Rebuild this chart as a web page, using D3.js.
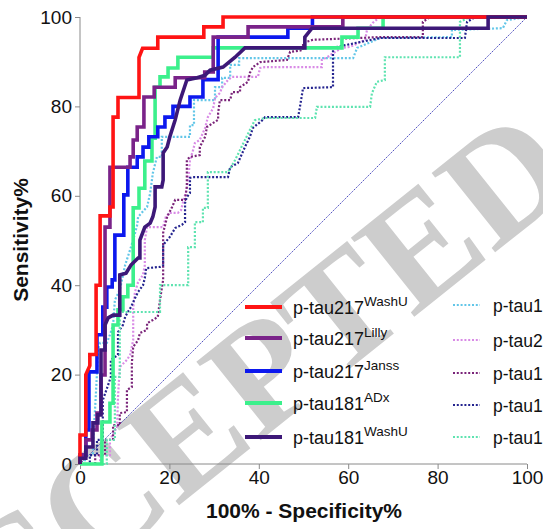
<!DOCTYPE html>
<html><head><meta charset="utf-8">
<script src="https://cdn.jsdelivr.net/npm/d3@7"></script>
<style>html,body{margin:0;padding:0;background:#fff;overflow:hidden}</style>
</head><body><svg id="c" width="543" height="529"></svg>
<script>
// ROC curves: [100% - specificity, sensitivity]
const pTau217WashU = [[0,0],[0,6.5],[1.3,6.5],[1.3,20],[2.2,22],[2.2,24.5],[3.6,24.5],[3.6,40],[4.5,40],[4.5,55.5],[6.7,55.5],[6.7,57.5],[7.4,57.5],[7.4,77.6],[8.5,77.6],[8.5,82],[13.2,82],[13.2,91],[14,93],[17.4,93],[17.4,95.5],[27.7,95.5],[27.7,97.8],[32,97.8],[32,100],[100,100]];
const pTau217Lilly = [[0,0],[0,2],[1.3,2],[1.3,5.4],[2.7,5.4],[2.7,7.6],[3.8,7.6],[3.8,11.4],[4.7,11.4],[4.7,19.9],[5.6,19.9],[5.6,53],[6.7,53],[6.7,66.4],[11.2,66.4],[11.2,68.7],[11.9,68.7],[11.9,72.5],[12.8,72.5],[12.8,75.4],[14.3,75.4],[14.3,82.1],[16.6,82.1],[16.6,84.3],[21.3,84.3],[21.3,86.4],[27.9,86.4],[27.9,87.7],[29.8,87.7],[29.8,95.5],[37.6,95.5],[37.6,97.8],[58.8,97.8],[58.8,100],[100,100]];
const pTau217Janss = [[0,0],[0,2],[1.3,2],[1.3,7.6],[2,7.6],[2,20.6],[3.8,20.6],[3.8,28.9],[5.1,28.9],[5.1,35.1],[6,35.1],[6,39.6],[7.2,39.6],[7.2,41.2],[7.8,41.2],[7.8,51.2],[9.8,51.2],[9.8,60.2],[10.7,60.2],[10.7,66.4],[12.8,66.4],[12.8,68.7],[14.1,68.7],[14.1,70.9],[15.4,70.9],[15.4,73.2],[17.4,73.2],[17.4,75.4],[19,75.4],[19,77.6],[20.8,77.6],[20.8,80],[24.6,80],[24.6,82.1],[27.5,82.1],[27.5,86],[30.9,86],[30.9,95.5],[46.5,95.5],[46.5,97.5],[52,97.5],[52,100],[100,100]];
const pTau181ADx = [[0,0],[4.9,0],[4.9,9.4],[6.7,9.4],[6.7,13.6],[7.4,13.6],[7.4,31.1],[8.5,31.1],[8.5,34.5],[9.6,34.5],[9.6,37.4],[10.7,37.4],[10.7,40],[11.9,40],[11.9,57.3],[13.2,57.3],[13.2,61.7],[14.5,61.7],[14.5,67.8],[16.1,67.8],[16.1,72.9],[16.8,72.9],[16.8,84.3],[17.9,84.3],[17.9,86.6],[19.7,86.6],[19.7,88.6],[21.9,88.6],[21.9,91],[29.8,91],[29.8,93.1],[58.6,93.1],[58.6,95.5],[62.2,95.5],[62.2,97.5],[67.8,97.5],[67.8,100],[100,100]];
const pTau181WashU = [[0,0],[0,1.3],[1.3,1.3],[1.3,3.8],[2.9,3.8],[2.9,9.2],[4,9.2],[4,11],[4.7,11],[4.7,25.5],[5.6,25.5],[5.6,31.1],[6.3,32.7],[7.4,33.3],[8.9,33.3],[8.9,42.3],[10.3,42.7],[11.4,44.5],[13,46.1],[13.4,46.1],[13.4,50.1],[14.5,53],[15.7,53.9],[16.3,55.3],[16.8,57.5],[16.8,62],[18.3,62],[18.6,63.5],[18.6,69.6],[19.5,70.9],[20.1,73.2],[21.3,77],[22.4,81.4],[23.9,85.9],[26.2,86.4],[28,87],[29.1,88.1],[32,88.8],[34.7,91],[36.9,93.1],[50.3,93.1],[50.3,95.5],[51.9,97.5],[91.3,97.5],[91.3,100],[100,100]];
const dotLightBlue = [[0,0],[1.1,0],[1.1,2],[2.9,2],[2.9,4.7],[3.4,12.8],[3.8,20.4],[4,25.5],[4.5,27.1],[6,27.1],[6.7,28.9],[7.4,31.1],[7.8,36.7],[8.9,38.9],[10.1,44.5],[11.2,47.9],[11.9,50.1],[12.8,53.5],[13,55.3],[15,57.5],[15.7,60.6],[16.3,65.1],[17.2,68.7],[18.3,68.7],[18.3,73.2],[24.6,73.2],[24.6,75.8],[25.5,75.8],[25.5,81.4],[30.2,81.4],[30.2,84.3],[31.8,84.3],[31.8,86.4],[33.6,86.4],[33.6,89.3],[35.6,89.3],[35.6,90.8],[61.1,90.8],[62,93.1],[67.1,95.3],[83.2,95.5],[83.2,97.1],[94.6,97.5],[95.5,99.3],[100,100]];
const dotPink = [[0,0],[4.5,0],[4.5,2],[6.7,2],[6.7,5.4],[8.3,8.3],[8.5,15],[8.9,21.7],[10.5,23.3],[11.2,24.4],[11.9,27.7],[11.9,34.9],[12.3,38.5],[13,40.7],[14.1,42.3],[14.5,44.5],[14.5,50.1],[15,53],[18.6,53],[19.2,55.3],[20.1,56.2],[21.9,56.2],[22.6,56.8],[23,58.4],[23.7,60.9],[24.2,63.5],[24.6,68],[25.3,70.2],[25.7,71.8],[26.8,72.5],[28,75.2],[28.6,77.6],[29.8,79.6],[30.2,81.9],[31.3,83],[31.8,84.3],[33.1,85.9],[34,86.6],[39.8,86.6],[40.3,88.6],[41.4,88.8],[54.1,88.8],[54.1,90.4],[55.3,91],[56.6,91.9],[58.6,93.1],[60.4,93.3],[63.8,94.9],[64.2,97.1],[65.5,98.7],[67.1,100],[100,100]];
const dotMagenta = [[0,0],[3.4,0],[3.4,2],[5.6,2],[5.6,5.4],[7.4,5.4],[7.4,8.7],[8.9,8.7],[8.9,11.4],[10.5,11.6],[10.5,16.6],[11.6,17.2],[11.6,22.6],[11.9,26.2],[13,27.7],[13.4,29.3],[15,30],[15,31.5],[16.3,32.2],[17.4,32.9],[17.9,36.7],[18.6,41.2],[18.6,51.7],[19.5,55.3],[20.6,57.5],[21.3,59.1],[23.5,59.1],[23.9,62],[23.9,68],[24.6,68.7],[26.8,69.1],[26.8,70.9],[28,73.2],[28.4,75.4],[29.8,76.3],[30.9,77],[30.9,78.5],[31.3,81.4],[33.6,81.4],[34,83.2],[35.8,83.2],[35.8,84.3],[37.6,85.5],[38,87.5],[38.7,88.8],[40.3,89.9],[46.3,90.4],[47,92.2],[49.9,92.6],[49.9,94.2],[52.1,94.9],[67.1,95.5],[76.7,95.5],[76.7,98.9],[78.3,100],[100,100]];
const dotNavy = [[0,0],[2.2,0],[2.2,2],[3.8,2],[3.8,5.4],[5.1,5.4],[5.1,14.3],[6.3,17.7],[6.9,19.5],[6.9,23.3],[8.5,24.4],[8.5,29.5],[9.6,31.1],[10.1,32.9],[10.7,34],[11.4,35.1],[12.3,37.1],[13,38.5],[14.1,40],[14.5,41.6],[14.8,43.8],[17.9,44.1],[18.6,44.5],[18.6,49],[20.1,50.8],[21.3,52.8],[22.8,53.5],[23.5,54.1],[23.5,58.4],[23.9,59.7],[24.6,60.6],[24.6,64],[25.3,64.2],[33.1,64.2],[33.6,66.4],[35.3,67.3],[36.9,70.9],[38,73.2],[38.7,75.2],[40.9,77],[41.4,77.6],[48.8,77.6],[49.2,79.9],[49.9,84.1],[56.6,84.3],[56.6,93.1],[59.3,93.7],[67.1,95.3],[86.1,95.3],[86.6,98.9],[88.4,100],[100,100]];
const dotLightGreen = [[0,0],[6,0],[6,5.4],[7.8,5.4],[7.8,19.5],[8.9,19.5],[8.9,34],[17.9,34],[17.9,40],[24.2,40],[24.2,48.5],[25.7,48.5],[25.7,54.1],[27.5,54.1],[27.5,57.3],[28.6,57.3],[28.6,65.3],[33.1,65.3],[34.7,68],[36.9,72.5],[39.1,76.9],[41.4,77.4],[52.6,77.4],[53,79.9],[64.9,79.9],[65.3,82.9],[66.4,85.5],[68.2,85.9],[68.2,91],[85,91],[85,98.9],[87.2,100],[100,100]];
const chanceLine = [[0,0],[100,100]];

const leftNames = ["p-tau217","p-tau217","p-tau217","p-tau181","p-tau181"];
const leftSups = ["WashU","Lilly","Janss","ADx","WashU"];
// right-hand legend labels as far as they are visible at the picture's edge
const rightNames = ["p-tau1","p-tau2","p-tau1","p-tau1","p-tau1"];
const xTicks = [0,20,40,60,80,100];
const yTicks = [0,20,40,60,80,100];

const solidSeries = [
  {data: pTau217WashU, color:"#ff1414"},
  {data: pTau217Lilly, color:"#7a2389"},
  {data: pTau217Janss, color:"#0c18ee"},
  {data: pTau181ADx, color:"#3cf08c"},
  {data: pTau181WashU, color:"#3d1878"}
];
const dottedSeries = [
  {data: dotLightBlue, color:"#62c6e8"},
  {data: dotPink, color:"#d98be6"},
  {data: dotMagenta, color:"#7a2479"},
  {data: dotNavy, color:"#24248f"},
  {data: dotLightGreen, color:"#5ee3b0"}
];

const svg = d3.select("#c");
const x = d3.scaleLinear().domain([0,100]).range([80,527]);
const y = d3.scaleLinear().domain([0,100]).range([464,17]);
const FONT = "Liberation Sans, Arial, sans-serif";

// watermark
svg.append("text")
  .attr("transform","translate(-85,717) rotate(-38.7)")
  .attr("font-family","Liberation Serif, Times New Roman, serif")
  .attr("font-weight","bold")
  .attr("font-size",155)
  .attr("fill","#cdcdcd")
  .text("ACCEPTED MANUSCRIPT");

// axes
const xAxis = svg.append("g").attr("transform","translate(0,464)")
  .call(d3.axisBottom(x).tickValues(xTicks).tickSize(5).tickPadding(2).tickFormat(d3.format("d")));
const yAxis = svg.append("g").attr("transform","translate(80,0)")
  .call(d3.axisLeft(y).tickValues(yTicks).tickSize(5).tickPadding(3).tickFormat(d3.format("d")));
[xAxis,yAxis].forEach(a=>{
  a.select(".domain").attr("stroke","#8a8a8a").attr("stroke-width",1);
  a.selectAll(".tick line").attr("stroke","#8a8a8a");
  a.selectAll(".tick text").attr("font-family",FONT).attr("font-size",19).attr("fill","#111");
});
xAxis.select(".domain").attr("d","M80,0H527");
yAxis.select(".domain").attr("d","M0,17V464");

svg.append("text").attr("x",304).attr("y",518).attr("text-anchor","middle")
  .attr("font-family",FONT).attr("font-weight","bold").attr("font-size",21).attr("fill","#111")
  .text("100% - Specificity%");
svg.append("text").attr("transform","translate(28,240) rotate(-90)").attr("text-anchor","middle")
  .attr("font-family",FONT).attr("font-weight","bold").attr("font-size",21).attr("fill","#111")
  .text("Sensitivity%");

const line = d3.line().x(d=>x(d[0])).y(d=>y(d[1]));

// chance diagonal
svg.append("path").attr("d",line(chanceLine)).attr("fill","none")
  .attr("stroke","#3a3ab8").attr("stroke-width",0.9).attr("stroke-dasharray","1.5,1");

dottedSeries.forEach(s=>{
  svg.append("path").attr("d",line(s.data)).attr("fill","none")
    .attr("stroke",s.color).attr("stroke-width",2.2).attr("stroke-dasharray","2,1.8");
});
const solidOrder = [3,2,1,0,4];
solidOrder.forEach(i=>{
  const s = solidSeries[i];
  svg.append("path").attr("d",line(s.data)).attr("fill","none")
    .attr("stroke",s.color).attr("stroke-width",3.6).attr("stroke-linejoin","miter");
});

// legend
const rowsL = [307,338,371,403,437];
const rowsR = [305,340,373,405,437];
function legendEntry(x1,x2,tx,yy,color,dotted,name,sup,fs){
  svg.append("line").attr("x1",x1).attr("x2",x2).attr("y1",yy).attr("y2",yy)
    .attr("stroke",color).attr("stroke-width",dotted?2.2:4)
    .attr("stroke-dasharray",dotted?"2,1.8":null);
  const t = svg.append("text").attr("x",tx).attr("y",yy+7).attr("font-family",FONT)
    .attr("font-size",fs).attr("fill","#111");
  t.append("tspan").text(name);
  if (sup) t.append("tspan").attr("font-size",13.5).attr("dy",-8).text(sup);
}
solidSeries.forEach((s,i)=>legendEntry(245,282,293,rowsL[i],s.color,false,leftNames[i],leftSups[i],18));
dottedSeries.forEach((s,i)=>legendEntry(453,480,493,rowsR[i],s.color,true,rightNames[i],null,17.5));
</script></body></html>
